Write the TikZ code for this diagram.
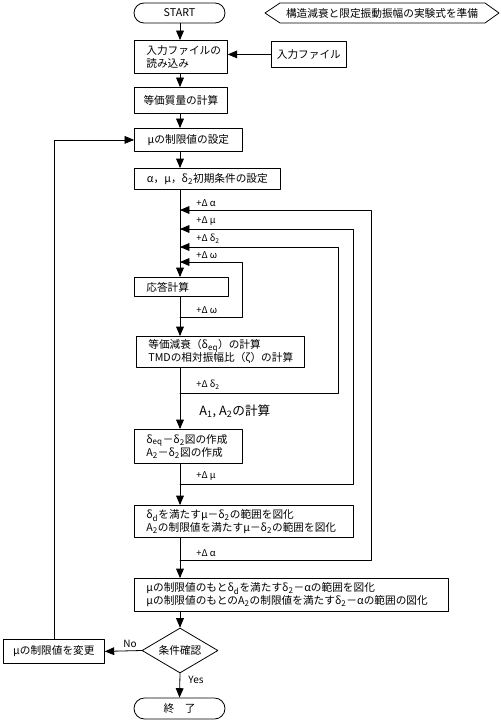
\documentclass[tikz,border=0pt]{standalone}
\usepackage{fontspec}
\setmainfont{Noto Sans CJK JP}
\usetikzlibrary{arrows,shapes.geometric,shapes.misc}
\newcommand{\dsub}[1]{δ\textsubscript{#1}}
\newcommand{\Asub}[1]{A\textsubscript{#1}}
\tikzset{
  box/.style={draw,anchor=north west,inner sep=0pt,font=\fontsize{8}{9.75}\selectfont},
  lbox/.style={box,align=left,inner xsep=9pt},
  term/.style={draw,rounded rectangle,inner sep=0pt,font=\fontsize{8}{9.75}\selectfont},
  lbl/.style={anchor=west,inner sep=0pt,font=\fontsize{7}{8}\selectfont},
}

\begin{document}
\begin{tikzpicture}[x=0.75pt,y=-0.75pt,line cap=round,line join=round,>=triangle 45,line width=0.6pt]
    \useasboundingbox (0,0) rectangle (500,721);
    \coordinate (ax) at (180,0);
    \node[term,minimum width=68.25pt,minimum height=15pt] (start) at (179.5,13) {START};
    \draw (265,13) -- (280,3) -- (485,3) -- (499,13) -- (485,23) -- (280,23) -- cycle;
    \node[font=\fontsize{8}{9.75}\selectfont] (prep) at (382,13) {構造減衰と限定振動振幅の実験式を準備};
    \node[lbox,text width=51.75pt,minimum height=24.75pt] (read) at (134,40) {入力ファイルの\\読み込み};
    \node[box,minimum width=56.25pt,minimum height=19.5pt] (infile) at (271,41) {入力ファイル};
    \node[box,minimum width=69.75pt,minimum height=19.5pt] (mass) at (134,87) {等価質量の計算};
    \node[box,minimum width=81pt,minimum height=17.25pt] (mulim) at (134,128) {μの制限値の設定};
    \node[box,minimum width=109.5pt,minimum height=15.75pt] (init) at (134,168) {α，μ，\dsub{2}初期条件の設定};
    \node[lbox,text width=52.5pt,minimum height=14.25pt] (resp) at (134,277) {応答計算};
    \node[lbox,text width=108pt,minimum height=23.25pt] (damp) at (136,336) {等価減衰（\dsub{eq}）の計算\\TMDの相対振幅比（ζ）の計算};
    \node[lbox,text width=63pt,minimum height=25.5pt] (fig) at (134,429) {\dsub{eq}－\dsub{2}図の作成\\\Asub{2}－\dsub{2}図の作成};
    \node[lbox,text width=146.25pt,minimum height=24pt] (range) at (134,505) {\dsub{d}を満たすμ－\dsub{2}の範囲を図化\\\Asub{2}の制限値を満たすμ－\dsub{2}の範囲を図化};
    \node[lbox,text width=217.5pt,minimum height=24.75pt] (range2) at (134,578) {μの制限値のもと\dsub{d}を満たす\dsub{2}－αの範囲を図化\\μの制限値のもとの\Asub{2}の制限値を満たす\dsub{2}－αの範囲の図化};
    \node[draw,diamond,aspect=1.7,inner sep=0pt,minimum width=57pt,minimum height=33.75pt,font=\fontsize{8}{9.75}\selectfont] (check) at (180,650.5) {条件確認};
    \node[box,minimum width=75.75pt,minimum height=18pt] (change) at (3,639) {μの制限値を変更};
    \node[term,minimum width=68.25pt,minimum height=15.75pt] (end) at (179.5,708.5) {終　了};
    \node[anchor=west,inner sep=0pt,font=\fontsize{9.5}{11}\selectfont] (calcA) at (199,411) {\Asub{1}, \Asub{2}の計算};

    \draw[->] (start.south -| ax) -- (read.north -| ax);
    \draw[->] (infile.west) -- (infile.west -| read.east);
    \draw[->] (read.south -| ax) -- (mass.north -| ax);
    \draw[->] (mass.south -| ax) -- (mulim.north -| ax);
    \draw[->] (mulim.south -| ax) -- (init.north -| ax);
    \draw[->] (init.south -| ax) -- (resp.north -| ax);
    \draw[->] (resp.south -| ax) -- (damp.north -| ax);
    \draw[->] (damp.south -| ax) -- (fig.north -| ax);
    \draw[->] (fig.south -| ax) -- (range.north -| ax);
    \draw[->] (range.south -| ax) -- (range2.north -| ax);
    \draw[->] (range2.south -| ax) -- (check.north);
    \draw[->] (check.south) -- (end.north);
    \draw[->] (check.west) -- (change.east);
    \draw[->] (change.north) |- (mulim.west);
    \node[anchor=south,inner sep=0pt,font=\fontsize{7.5}{9}\selectfont] (no) at (130,648) {No};
    \node[anchor=west,inner sep=0pt,font=\fontsize{7.5}{9}\selectfont] (yes) at (188,680) {Yes};

    \coordinate (w0) at (180,317); \coordinate (w1) at (180,262);
    \coordinate (d0) at (180,393); \coordinate (d1) at (180,247);
    \coordinate (m0) at (180,484); \coordinate (m1) at (180,229);
    \coordinate (a0) at (180,560); \coordinate (a1) at (180,210);
    \draw[->] (w0) -- ++(62,0) |- (w1);
    \draw[->] (d0) -- ++(158,0) |- (d1);
    \draw[->] (m0) -- ++(173,0) |- (m1);
    \draw[->] (a0) -- ++(191,0) |- (a1);
    \node[lbl] (la1) at (196,203) {+Δ α};
    \node[lbl] (lm1) at (196,221) {+Δ μ};
    \node[lbl] (ld1) at (196,239) {+Δ \dsub{2}};
    \node[lbl] (lw1) at (196,255) {+Δ ω};
    \node[lbl] (lw0) at (196,310) {+Δ ω};
    \node[lbl] (ld0) at (196,385) {+Δ \dsub{2}};
    \node[lbl] (lm0) at (196,476) {+Δ μ};
    \node[lbl] (la0) at (196,553) {+Δ α};
\end{tikzpicture}
\end{document}
